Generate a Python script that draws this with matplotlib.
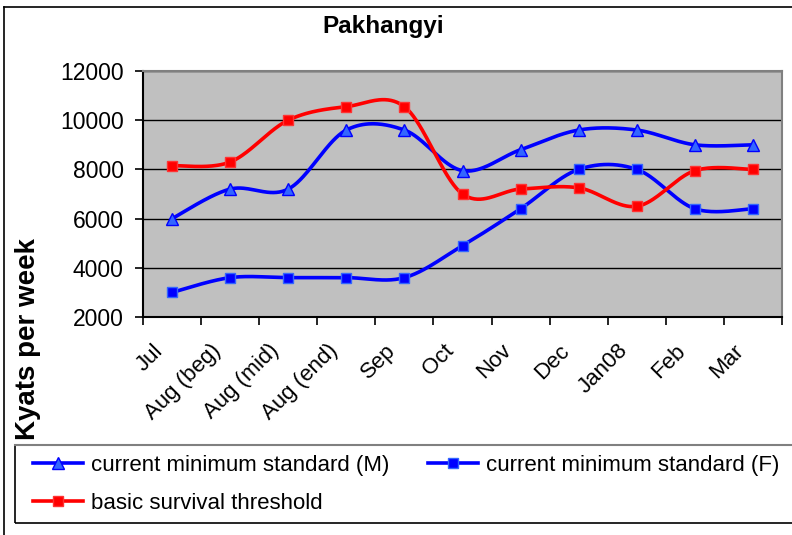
import numpy as np
import matplotlib
matplotlib.use("Agg")
import matplotlib.pyplot as plt
from matplotlib.lines import Line2D
from matplotlib.patches import Rectangle
from matplotlib.transforms import ScaledTranslation

plt.rcParams['font.family'] = ['Liberation Sans', 'DejaVu Sans']

categories = ["Jul", "Aug (beg)", "Aug (mid)", "Aug (end)", "Sep", "Oct",
              "Nov", "Dec", "Jan08", "Feb", "Mar"]
min_std_m = [6000, 7200, 7200, 9600, 9600, 7950, 8800, 9600, 9600, 9000, 9000]
min_std_f = [3000, 3600, 3600, 3600, 3600, 4900, 6400, 8000, 8000, 6400, 6400]
survival = [8150, 8300, 10000, 10550, 10550, 7000, 7200, 7250, 6500, 7950, 8000]
yticks = [2000, 4000, 6000, 8000, 10000, 12000]


def smooth(xs, ys, n=40):
    """Catmull-Rom style cubic Bezier smoothing through every point."""
    xs = np.asarray(xs, float)
    ys = np.asarray(ys, float)
    P = np.column_stack([xs, ys])
    out = []
    for i in range(len(P) - 1):
        p0 = P[i - 1] if i > 0 else P[i]
        p1 = P[i]
        p2 = P[i + 1]
        p3 = P[i + 2] if i + 2 < len(P) else P[i + 1]
        c1 = p1 + (p2 - p0) / 6.0
        c2 = p2 - (p3 - p1) / 6.0
        t = np.linspace(0, 1, n)[:, None]
        seg = ((1 - t) ** 3) * p1 + 3 * ((1 - t) ** 2) * t * c1 \
            + 3 * (1 - t) * t ** 2 * c2 + t ** 3 * p2
        out.append(seg if i == 0 else seg[1:])
    out = np.vstack(out)
    return out[:, 0], out[:, 1]


W, H = 792, 535
fig = plt.figure(figsize=(W / 100, H / 100), dpi=100)
ax = fig.add_axes([143 / W, 1 - 317 / H, (782 - 143) / W, (317 - 71) / H])
ax.set_facecolor("#C0C0C0")

x = np.arange(len(categories))
blue = "#0000FF"
red = "#FF0000"
lw = 2.6

series = [
    (min_std_m, blue, "^", "#3366FF", blue, "current minimum standard (M)"),
    (min_std_f, blue, "s", "#0000FF", "#3366FF", "current minimum standard (F)"),
    (survival, red, "s", "#FF0000", "#FF3333", "basic survival threshold"),
]
handles = []
for ys, col, mk, mfc, mec, lab in series:
    sx, sy = smooth(x, ys)
    ax.plot(sx, sy, color=col, lw=lw, zorder=3, solid_capstyle="round")
    ax.plot(x, ys, linestyle="none", marker=mk, ms=8.5 if mk == "^" else 7.5,
            mfc=mfc, mec=mec, mew=1.0, zorder=4)
    handles.append(Line2D([], [], color=col, lw=lw, marker=mk,
                          ms=8.5 if mk == "^" else 7.5, mfc=mfc, mec=mec,
                          mew=1.0, label=lab))

ax.set_xlim(-0.5, len(categories) - 0.5)
ax.set_ylim(2000, 12000)
ax.set_yticks(yticks)
ax.set_yticklabels([str(v) for v in yticks])
ax.yaxis.grid(True, color="black", lw=1.0)
ax.set_axisbelow(True)

ax.set_xticks(x)
ax.set_xticklabels(categories, rotation=45, ha="right", va="center",
                   rotation_mode="anchor")
ax.set_xticks(np.arange(len(categories) + 1) - 0.5, minor=True)
ax.tick_params(axis="x", which="major", length=0, pad=22, labelsize=16)
ax.tick_params(axis="x", which="minor", length=6, width=1.2, color="black")
ax.tick_params(axis="y", length=6, width=1.2, pad=8, labelsize=16.5)
shift = ScaledTranslation(-12 / 100, 0, fig.dpi_scale_trans)
for lbl in ax.get_xticklabels():
    lbl.set_transform(lbl.get_transform() + shift)

for side in ("left", "bottom"):
    ax.spines[side].set_color("black")
    ax.spines[side].set_linewidth(1.5)
for side in ("top", "right"):
    ax.spines[side].set_color("#808080")
    ax.spines[side].set_linewidth(1.5)

fig.text(383 / W, 1 - 27 / H, "Pakhangyi", ha="center", va="center",
         fontsize=17.5, fontweight="bold")
fig.text(28 / W, 1 - 339 / H, "Kyats per week", ha="center", va="center",
         rotation=90, fontsize=20, fontweight="bold")

# outer chart border (left and top edges are visible)
fig.add_artist(Line2D([4 / W, 4 / W], [0, 1 - 7 / H], color="black", lw=1.2,
                      transform=fig.transFigure))
fig.add_artist(Line2D([4 / W, 1], [1 - 7 / H, 1 - 7 / H], color="black",
                      lw=1.2, transform=fig.transFigure))

# legend frame
fig.add_artist(Rectangle((15 / W, 1 - 523 / H), (820 - 15) / W, (523 - 445) / H,
                         transform=fig.transFigure, fill=False,
                         edgecolor="black", lw=1.2))
fig.add_artist(Line2D([15 / W, 1], [1 - 445 / H, 1 - 445 / H], color="#808080",
                      lw=1.5, transform=fig.transFigure))

leg = fig.legend(handles=[handles[0], handles[2], handles[1]], ncol=2,
                 loc="upper left", bbox_to_anchor=(33 / W, 1 - 455 / H),
                 frameon=False, fontsize=16, handlelength=2.25,
                 handletextpad=0.35, columnspacing=1.75, labelspacing=0.75,
                 borderpad=0.0, borderaxespad=0.0)

fig.savefig("out.png", dpi=100)
